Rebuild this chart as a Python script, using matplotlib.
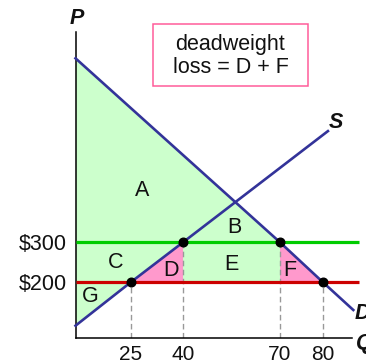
import numpy as np
import matplotlib
matplotlib.use('Agg')
import matplotlib.pyplot as plt
from matplotlib.patches import Polygon, Rectangle

plt.rcParams['font.family'] = ['Liberation Sans', 'DejaVu Sans']

# ---------------- data ----------------
price_levels = [200, 300]
price_labels = ['$200', '$300']
qty_ticks = [25, 40, 70, 80]
qty_labels = ['25', '40', '70', '80']

supply_q = [0, 25, 40, 81.7]
supply_p = [91.5, 200, 300, 578]
demand_q = [0, 70, 80, 90.45]
demand_p = [760, 300, 200, 130.75]

points_q = [25, 40, 70, 80]
points_p = [200, 300, 300, 200]

box_text = "deadweight\nloss = D + F"

# ---------------- figure ----------------
W, H = 366, 363
fig = plt.figure(figsize=(W / 100, H / 100), dpi=100)
ax = fig.add_axes([75.5 / W, (H - 337.7) / H, (352 - 75.5) / W, (337.7 - 32) / H])

# schematic (piecewise) quantity scale of the diagram
q_anchor = np.array([0, 25, 40, 70, 80, 90, 100], dtype=float)
u_anchor = np.array([75.5, 130.7, 183, 280, 323, 352, 381], dtype=float)

def fwd(q):
    return np.interp(q, q_anchor, u_anchor)

def inv(u):
    return np.interp(u, u_anchor, q_anchor)

ax.set_xscale('function', functions=(fwd, inv))
ax.set_xlim(0, 90)
ax.set_ylim(61.5, 825.75)

green_fill = '#ccffcc'
pink_fill = '#ff99cc'
navy = '#333399'

# surplus area (green)
green_poly = [(demand_q[0], demand_p[0]), (demand_q[1], demand_p[1]),
              (demand_q[1], price_levels[0]), (supply_q[1], supply_p[1]),
              (supply_q[0], supply_p[0])]
ax.add_patch(Polygon(green_poly, closed=True, facecolor=green_fill, edgecolor='none', zorder=1))
# deadweight loss triangles (pink)
tri_D = [(supply_q[1], supply_p[1]), (supply_q[2], supply_p[2]), (supply_q[2], price_levels[0])]
tri_F = [(demand_q[1], demand_p[1]), (demand_q[2], demand_p[2]), (demand_q[1], price_levels[0])]
for tri in (tri_D, tri_F):
    ax.add_patch(Polygon(tri, closed=True, facecolor=pink_fill, edgecolor='none', zorder=1))

# dashed drop lines
for q, p in zip(points_q, points_p):
    ax.plot([q, q], [61.5, p], color='#999999', lw=1.0, linestyle=(0, (4, 2.5)), zorder=2)

# price lines
ax.plot([0, 92.4], [300, 300], color='#00cc00', lw=2.3, zorder=3, clip_on=False, solid_capstyle='butt')
ax.plot([0, 92.4], [200, 200], color='#cc0000', lw=2.3, zorder=3, clip_on=False, solid_capstyle='butt')

# supply & demand
ax.plot(supply_q, supply_p, color=navy, lw=1.9, zorder=4, clip_on=False)
ax.plot(demand_q, demand_p, color=navy, lw=1.9, zorder=4, clip_on=False)

# points
ax.plot(points_q, points_p, 'o', color='black', markersize=6.2, zorder=5, clip_on=False)

# axes styling
for s in ['top', 'right']:
    ax.spines[s].set_visible(False)
for s in ['left', 'bottom']:
    ax.spines[s].set_linewidth(1.1)
    ax.spines[s].set_color('black')
ax.set_xticks(qty_ticks)
ax.set_xticklabels(qty_labels)
ax.set_yticks(price_levels)
ax.set_yticklabels(price_labels)
ax.xaxis.set_minor_locator(matplotlib.ticker.NullLocator())
ax.tick_params(axis='y', length=0, labelsize=15.5, pad=6)
ax.tick_params(axis='x', length=0, labelsize=15, pad=5.2)
ax.set_facecolor('none')
for lbl in ax.get_xticklabels() + ax.get_yticklabels():
    lbl.set_color('#111111')

def fpos(x, y):
    return (x / W, 1 - y / H)

# region letters
region_letters = ['A', 'B', 'C', 'D', 'E', 'F', 'G']
region_px = [(142, 191), (234.8, 227.5), (115.8, 262.5), (170.8, 270), (231.8, 264), (289.8, 270.5), (90.7, 297)]
for t, (x, y) in zip(region_letters, region_px):
    fig.text(*fpos(x, y), t, fontsize=15.5, ha='center', va='center', color='#111111')

# curve / axis labels
bi = dict(fontsize=15.5, fontweight='bold', fontstyle='italic', color='#111111')
fig.text(*fpos(76.5, 18.5), 'P', ha='center', va='center', **bi)
fig.text(*fpos(336, 123), 'S', ha='center', va='center', **bi)
fig.text(*fpos(355, 313.5), 'D', ha='left', va='center', **bi)
fig.text(*fpos(356, 343.5), 'Q', ha='left', va='center', **bi)

# box
bx0, by0, bx1, by1 = 153.3, 24.3, 308.3, 85.7
fig.add_artist(Rectangle((bx0 / W, 1 - by1 / H), (bx1 - bx0) / W, (by1 - by0) / H,
                         transform=fig.transFigure, facecolor='white',
                         edgecolor='#ff5c9a', lw=1.1))
fig.text(*fpos(230.5, 56), box_text, ha='center', va='center', fontsize=15.5,
         linespacing=1.1, color='#111111')

fig.savefig('out.png', dpi=100)
